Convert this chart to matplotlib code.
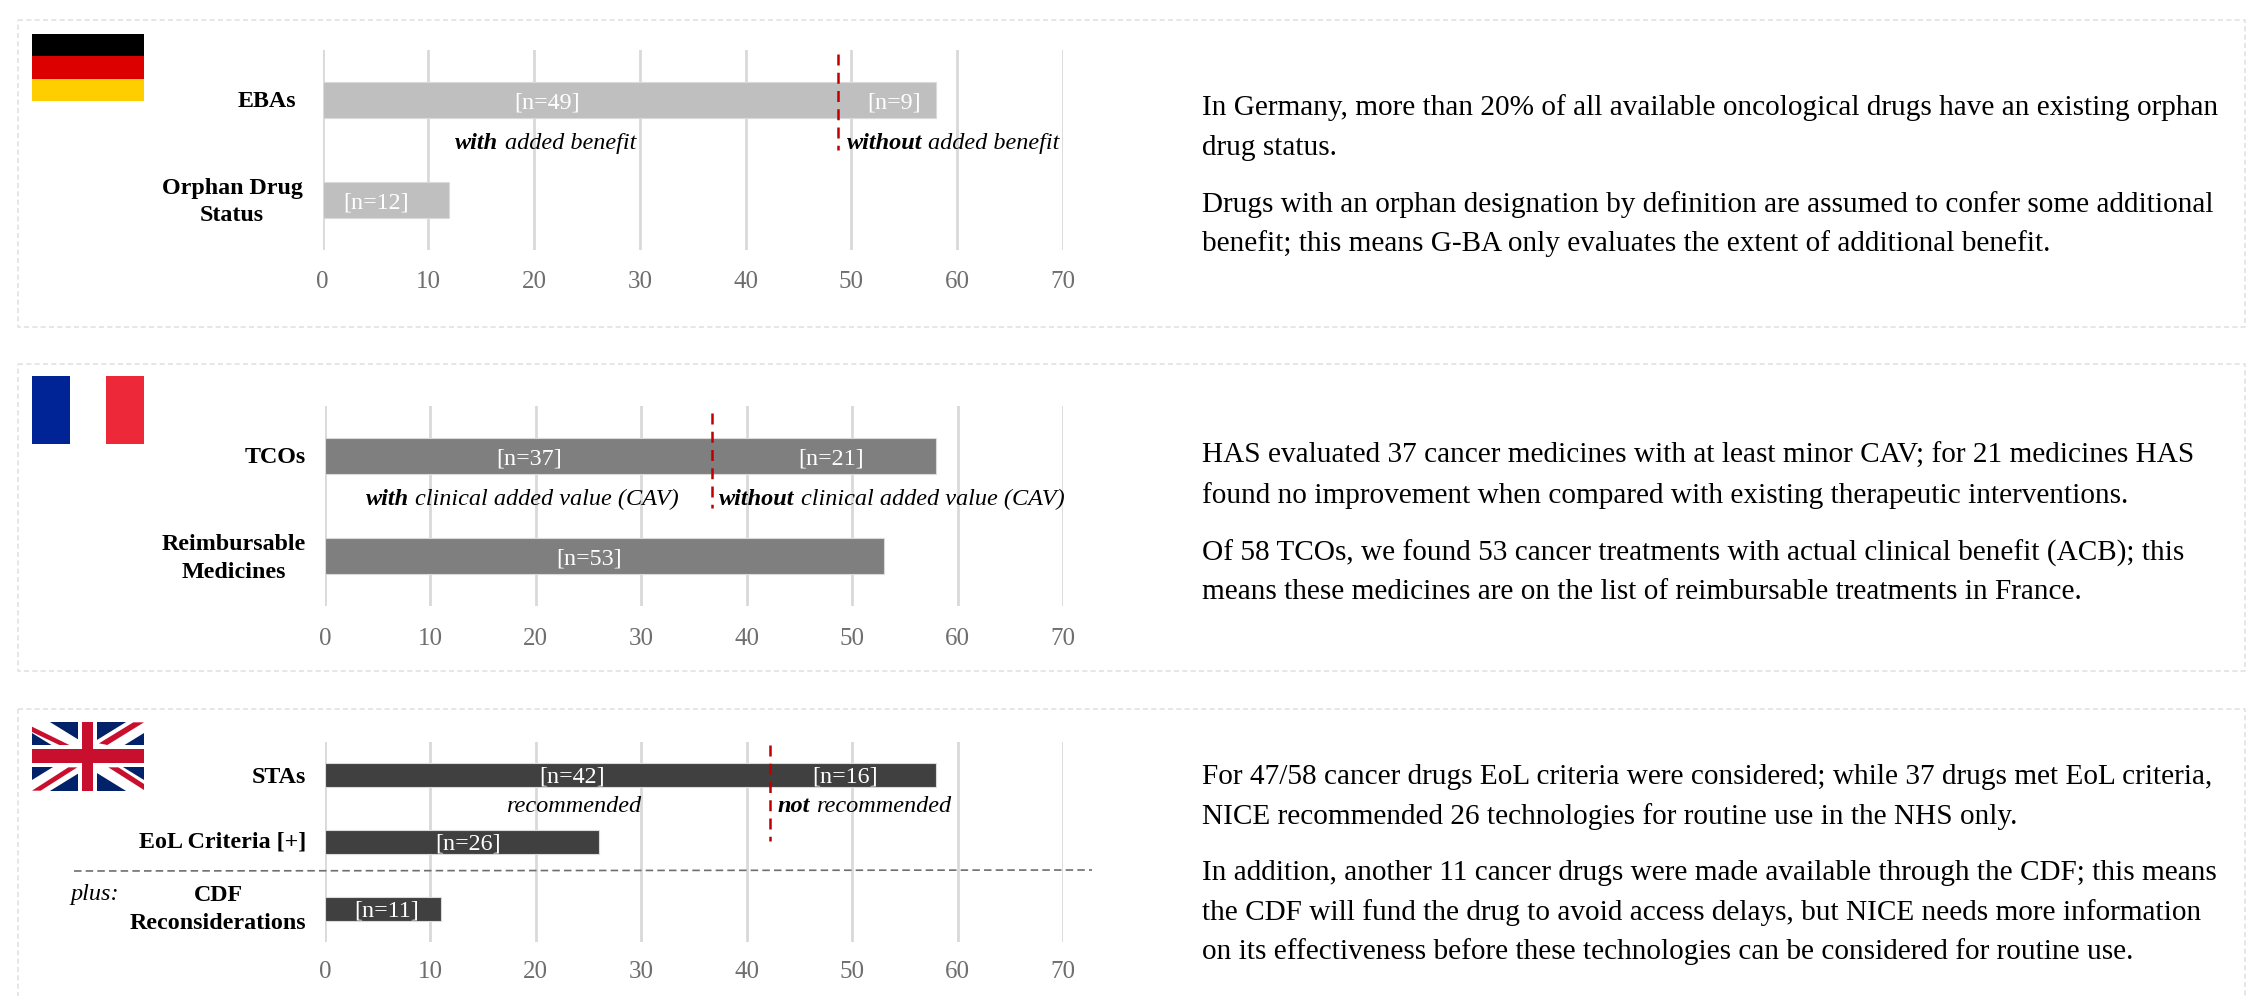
import matplotlib
matplotlib.use("Agg")
import matplotlib.pyplot as plt
from matplotlib.patches import Rectangle, Polygon

W, H = 2262, 996
plt.rcParams['font.family'] = ['Liberation Serif', 'DejaVu Serif']

# ---------- data ----------
de_categories = ["EBAs", "Orphan Drug\nStatus"]
de_with = [49, 12]
de_without = [9, 0]
de_split = 48.7
fr_categories = ["TCOs", "Reimbursable\nMedicines"]
fr_with = [37, 53]
fr_without = [21, 0]
fr_split = 36.7
uk_categories = ["STAs", "EoL Criteria [+]", "CDF\nReconsiderations"]
uk_with = [42, 26, 11]
uk_without = [16, 0, 0]
uk_split = 42.2
ticks = [0, 10, 20, 30, 40, 50, 60, 70]

de_text = ["In Germany, more than 20% of all available oncological drugs have an existing orphan",
           "drug status.",
           "Drugs with an orphan designation by definition are assumed to confer some additional",
           "benefit; this means G-BA only evaluates the extent of additional benefit."]
fr_text = ["HAS evaluated 37 cancer medicines with at least minor CAV; for 21 medicines HAS",
           "found no improvement when compared with existing therapeutic interventions.",
           "Of 58 TCOs, we found 53 cancer treatments with actual clinical benefit (ACB); this",
           "means these medicines are on the list of reimbursable treatments in France."]
uk_text = ["For 47/58 cancer drugs EoL criteria were considered; while 37 drugs met EoL criteria,",
           "NICE recommended 26 technologies for routine use in the NHS only.",
           "In addition, another 11 cancer drugs were made available through the CDF; this means",
           "the CDF will fund the drug to avoid access delays, but NICE needs more information",
           "on its effectiveness before these technologies can be considered for routine use."]

fig = plt.figure(figsize=(W / 100, H / 100), dpi=100, facecolor="white")
ov = fig.add_axes([0, 0, 1, 1], zorder=5)
ov.set_xlim(0, W); ov.set_ylim(H, 0); ov.axis("off"); ov.patch.set_alpha(0)

GRID = "#D9D9D9"
TICKC = "#6E6E6E"
RED = "#C00000"
LAB = 17.3
BODY = 21.1
NOTE = 17.5


def panel_border(top, bottom):
    ov.plot([18, 2245, 2245, 18, 18], [top, top, bottom, bottom, top], color="#E2E2E2",
            lw=1.2, ls=(0, (3, 2)), clip_on=False)


def chart(x0, x70, ytop, ybot, cats, seg1, seg2, split, color, labels, red_y, pad):
    ax = fig.add_axes([x0 / W, 1 - ybot / H, (x70 - x0) / W, (ybot - ytop) / H], zorder=2)
    ax.set_xlim(0, 70); ax.set_ylim(len(cats) - 0.5, -0.5)
    ax.patch.set_alpha(0)
    for s in ax.spines.values():
        s.set_visible(False)
    ax.set_xticks(ticks)
    ax.set_yticks([])
    ax.tick_params(axis="x", length=0, pad=pad, labelsize=18, labelcolor=TICKC)
    ax.grid(axis="x", color=GRID, lw=2, zorder=0)
    ax.set_axisbelow(True)
    y = list(range(len(cats)))
    ax.barh(y, seg1, 0.36, color=color, lw=0, zorder=2)
    ax.barh(y, seg2, 0.36, left=seg1, color=color, lw=0, zorder=2)
    totals = [a + b for a, b in zip(seg1, seg2)]
    ax.barh(y, totals, 0.36, fill=False, edgecolor="#DADADA", lw=0.8, zorder=2.5)
    for lx, ly, s in labels:
        ax.text(lx, ly, s, color="white", ha="center", va="center", fontsize=17.3, zorder=3)
    to_y = lambda p: (p - ytop) / (ybot - ytop) * len(cats) - 0.5
    ax.plot([split, split], [to_y(red_y[0]), to_y(red_y[1])], color=RED, lw=1.8,
            ls=(0, (4.4, 2.9)), zorder=4)
    return ax


def body(lines, ys):
    for s, y in zip(lines, ys):
        ov.text(1202, y, s, fontsize=BODY, ha="left", va="center", color="black")


def lab(x, y, s, ha="right", **kw):
    kw.setdefault("fontweight", "bold")
    ov.text(x, y, s, fontsize=LAB, ha=ha, va="center", color="black", **kw)


def note(x, y, s, bold=False):
    ov.text(x, y, s, fontsize=NOTE, style="italic", fontweight="bold" if bold else "normal",
            ha="left", va="center", color="black")


# ---------- borders ----------
panel_border(20, 327)
panel_border(364, 671)
panel_border(709, 1010)

# ---------- Germany ----------
chart(322.5, 1063, 50, 250, de_categories, de_with, de_without, de_split, "#BFBFBF",
      [(21.2, 0.03, "[n=49]"), (54.05, 0.03, "[n=9]"), (5.1, 1.03, "[n=12]")], (54, 150), 15)
for i, c in enumerate(["#000000", "#DD0000", "#FFCE00"]):
    ov.add_patch(Rectangle((32, 34 + i * 22.4), 112, 22.4, color=c, lw=0))
lab(296, 101, "EBAs")
lab(232, 188.5, "Orphan Drug", ha="center")
lab(232, 215.5, "Status", ha="center")
note(455, 143.5, "with", True); note(505, 143.5, "added benefit")
note(847, 143.5, "without", True); note(928, 143.5, "added benefit")
body(de_text, [108, 148, 205, 244])

# ---------- France ----------
chart(325, 1063, 406, 606, fr_categories, fr_with, fr_without, fr_split, "#7F7F7F",
      [(19.4, 0.03, "[n=37]"), (48.0, 0.03, "[n=21]"), (25.0, 1.03, "[n=53]")], (413, 508), 16)
ov.add_patch(Rectangle((32, 376), 38, 68, color="#002395", lw=0))
ov.add_patch(Rectangle((106, 376), 38, 68, color="#ED2939", lw=0))
lab(306, 457, "TCOs")
lab(234, 544, "Reimbursable", ha="center")
lab(234, 572, "Medicines", ha="center")
note(366, 499.5, "with", True); note(415, 499.5, "clinical added value (CAV)")
note(719, 499.5, "without", True); note(801, 499.5, "clinical added value (CAV)")
body(fr_text, [456, 496, 553, 592])

# ---------- UK ----------
chart(325, 1063, 742, 942, uk_categories, uk_with, uk_without, uk_split, "#404040",
      [(23.4, 0.03, "[n=42]"), (49.3, 0.03, "[n=16]"), (13.6, 1.03, "[n=26]"), (5.8, 2.03, "[n=11]")],
      (745, 841), 14)
fx0, fx1, fy0, fy1 = 32, 144, 722, 791
ov.add_patch(Rectangle((fx0, fy0), fx1 - fx0, fy1 - fy0, color="#012169", lw=0, zorder=1))
clip = Rectangle((fx0, fy0), fx1 - fx0, fy1 - fy0, transform=ov.transData)
for (a, b) in [((fx0, fy0), (fx1, fy1)), ((fx0, fy1), (fx1, fy0))]:
    l1, = ov.plot([a[0], b[0]], [a[1], b[1]], color="white", lw=13.5, zorder=2, solid_capstyle="butt")
    l1.set_clip_path(clip)
# red counterchanged diagonals, given as crop pixels of the flag
for pts in ([(36, 50), (148, 105), (118, 105), (36, 66)],
            [(372, 37), (340, 37), (237, 100), (262, 105)],
            [(265, 172), (295, 172), (372, 222), (372, 240)],
            [(36, 242), (62, 242), (172, 172), (145, 172)]):
    ov.add_patch(Polygon([(px / 3 + 20, py / 3 + 710) for px, py in pts], color="#C8102E", lw=0, zorder=3))
cx, cy = 87.8, 756.3
ov.add_patch(Rectangle((cx - 9.5, fy0), 19, fy1 - fy0, color="white", lw=0, zorder=4))
ov.add_patch(Rectangle((fx0, cy - 11), fx1 - fx0, 22, color="white", lw=0, zorder=4))
ov.add_patch(Rectangle((cx - 5.5, fy0), 11, fy1 - fy0, color="#C8102E", lw=0, zorder=5))
ov.add_patch(Rectangle((fx0, cy - 7), fx1 - fx0, 14, color="#C8102E", lw=0, zorder=5))

lab(306, 777, "STAs")
lab(306, 842, "EoL Criteria [+]")
lab(218, 895, "CDF", ha="center")
lab(218, 923, "Reconsiderations", ha="center")
ov.text(70, 894, "plus:", fontsize=NOTE, style="italic", ha="left", va="center", color="black")
ov.plot([74, 1092], [871, 870], color="#6E6E6E", lw=1.2, ls=(0, (4.5, 2.5)))
note(506, 806, "recommended")
note(778, 806, "not", True); note(816.5, 806, "recommended")
body(uk_text, [777, 817, 873, 913, 952])

fig.savefig("out.png", dpi=100)
